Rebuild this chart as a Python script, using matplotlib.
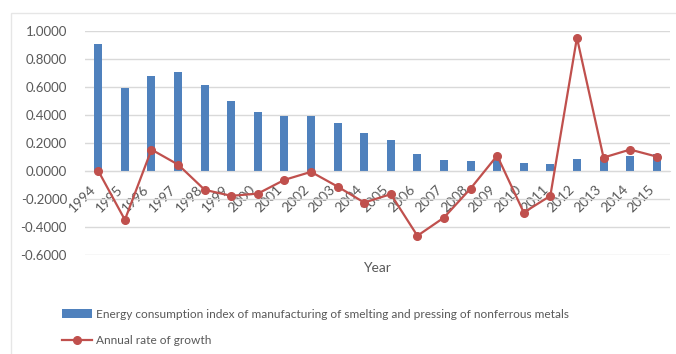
import numpy as np
import matplotlib
matplotlib.use('Agg')
from matplotlib import pyplot as plt
from matplotlib.lines import Line2D
from matplotlib.patches import Patch, Rectangle
from matplotlib.ticker import FormatStrFormatter

years = [str(y) for y in range(1994, 2016)]
energy_index = [0.903, 0.589, 0.675, 0.706, 0.611, 0.497, 0.418, 0.390, 0.390, 0.340,
                0.269, 0.219, 0.119, 0.076, 0.069, 0.078, 0.055, 0.050, 0.083, 0.100,
                0.107, 0.121]
growth_rate = [0.000, -0.349, 0.152, 0.045, -0.135, -0.178, -0.162, -0.064, -0.007, -0.112,
               -0.226, -0.166, -0.463, -0.333, -0.126, 0.109, -0.297, -0.178, 0.950, 0.095,
               0.152, 0.102]

BAR_COLOR = '#4f81bd'
LINE_COLOR = '#c0504d'
TEXT_COLOR = '#595959'
GRID_COLOR = '#d9d9d9'

plt.rcParams['font.family'] = ['Lato', 'DejaVu Sans']
plt.rcParams['axes.unicode_minus'] = False

fig = plt.figure(figsize=(6.76, 3.54), dpi=100)
# outer chart frame
fig.patches.append(Rectangle((11 / 676, -0.1), 1.2, 1 - 13 / 354 + 0.1, transform=fig.transFigure,
                             fill=False, edgecolor='#e6e6e6', linewidth=1.0))

ax = fig.add_axes([85 / 676, 1 - 255 / 354, 585 / 676, (255 - 30.7) / 354])
x = np.arange(len(years))

ax.bar(x, energy_index, width=0.3, color=BAR_COLOR, zorder=2)
ax.plot(x, growth_rate, color=LINE_COLOR, linewidth=1.6, marker='o', markersize=5.5, zorder=3)

ax.set_xlim(-0.5, len(years) - 0.5)
ax.set_ylim(-0.6, 1.0)
ax.set_yticks(np.arange(-0.6, 1.01, 0.2))
ax.yaxis.set_major_formatter(FormatStrFormatter('%.4f'))
ax.grid(axis='y', color=GRID_COLOR, linewidth=1.0, zorder=0)
ax.set_axisbelow(True)

for side in ['top', 'right', 'left']:
    ax.spines[side].set_visible(False)
ax.spines['bottom'].set_position(('data', 0))
ax.spines['bottom'].set_color(GRID_COLOR)

ax.set_xticks(x)
ax.set_xticklabels(years, rotation=45, ha='right', va='top')
ax.tick_params(axis='x', length=0, pad=9, labelsize=10, labelcolor=TEXT_COLOR)
ax.tick_params(axis='y', length=0, pad=13, labelsize=9.5, labelcolor=TEXT_COLOR)

fig.text(377 / 676, 1 - 268 / 354, 'Year', ha='center', va='center', fontsize=10, color=TEXT_COLOR)

handles = [Patch(facecolor=BAR_COLOR),
           Line2D([0], [0], color=LINE_COLOR, linewidth=1.6, marker='o', markersize=5.5)]
labels = ['Energy consumption index of manufacturing of smelting and pressing of nonferrous metals',
          'Annual rate of growth']
fig.legend(handles, labels, loc='upper left', bbox_to_anchor=(57 / 676, 1 - 304 / 354),
           frameon=False, fontsize=8.6, labelcolor=TEXT_COLOR, handlelength=2.5,
           handletextpad=0.35, labelspacing=1.3, borderaxespad=0)

fig.savefig('out.png', dpi=100)
